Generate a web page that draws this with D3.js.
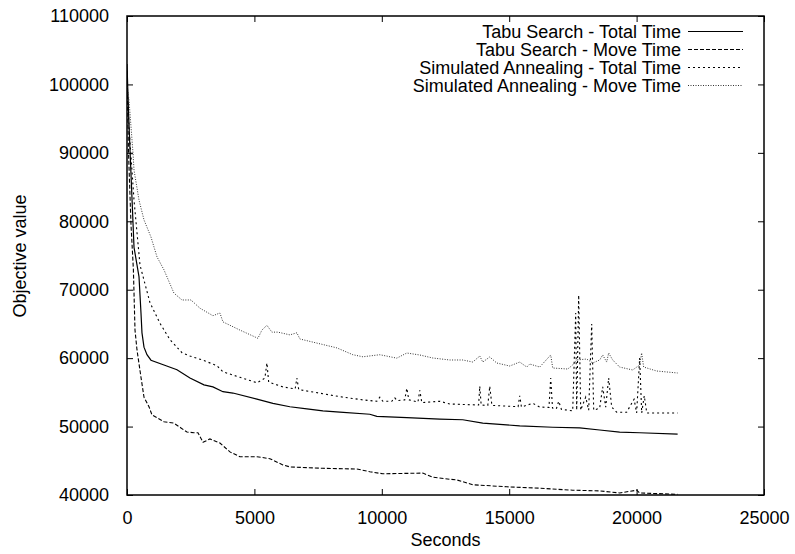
<!DOCTYPE html>
<html>
<head>
<meta charset="utf-8">
<script src="https://cdn.jsdelivr.net/npm/d3@7/dist/d3.min.js"></script>
<style>
  html, body { margin: 0; padding: 0; background: #fff; }
  svg { display: block; }
  text { font-family: "Liberation Sans", Arial, Helvetica, sans-serif; fill: #000; }
</style>
</head>
<body>
<svg id="chart" width="795" height="554"></svg>
<script>
// ---- Data (seconds, objective value) ----
const seriesNames = [
  "Tabu Search - Total Time",
  "Tabu Search - Move Time",
  "Simulated Annealing - Total Time",
  "Simulated Annealing - Move Time"
];

const tabuTotal = [[0,103000],[60,96000],[118,90400],[275,76200],[471,71900],[549,66600],[588,63700],[667,61600],[784,60500],[941,59700],[1451,59000],[1961,58300],[2471,57100],[3020,56100],[3373,55800],[3765,55100],[4157,54900],[5099,54000],[5726,53400],[6393,52900],[7060,52600],[7687,52300],[8354,52100],[9530,51800],[9805,51500],[10982,51300],[12276,51100],[13178,51000],[13962,50500],[15413,50100],[16708,49900],[17767,49800],[18551,49500],[19335,49200],[20120,49100],[21610,48900]];

const tabuMove = [[0,102000],[60,90000],[157,79500],[250,73000],[314,64100],[392,61200],[549,57200],[667,54300],[863,52900],[980,51700],[1177,51300],[1451,50700],[1843,50500],[2118,49800],[2353,49200],[2628,49100],[2785,49100],[2981,47700],[3255,48200],[3647,47600],[4040,46300],[4432,45600],[5099,45600],[5608,45300],[6118,44400],[6393,44100],[7687,43900],[9021,43800],[9530,43400],[10040,43100],[11609,43200],[12001,42600],[12668,42300],[12943,42200],[13570,41500],[14904,41200],[16198,41000],[17492,40700],[18551,40600],[19335,40300],[20002,40700],[20120,40300],[21610,40100]];

const saTotal = [[0,101000],[78,93800],[275,83100],[510,73600],[902,68100],[1294,65100],[1686,62700],[2157,60800],[2471,60300],[2981,59700],[3530,58900],[3765,58000],[4432,57200],[5099,56400],[5295,56800],[5412,57100],[5491,59300],[5560,56500],[6118,55800],[6600,55500],[6667,57100],[6740,55400],[7687,54800],[8471,54300],[9256,53900],[9805,53700],[9923,54300],[10040,53700],[10393,53700],[10511,54200],[10600,53800],[10900,53900],[10982,55600],[11060,53900],[11420,53600],[11491,55300],[11570,53500],[12276,53700],[12668,53300],[13800,53150],[13845,55900],[13900,53150],[14160,53100],[14237,55900],[14320,53100],[15350,52900],[15413,54500],[15480,52860],[15923,53400],[16198,52860],[16560,52800],[16629,57100],[16700,52700],[16850,52600],[16943,53700],[17050,52500],[17296,52400],[17492,52300],[17610,66600],[17649,52400],[17727,69200],[17806,52400],[18002,54300],[18120,52400],[18238,65000],[18316,52400],[18551,52700],[18669,55800],[18787,52850],[18904,57100],[19022,52850],[19218,52100],[19610,52100],[19900,54000],[20002,52000],[20120,60000],[20200,52000],[20300,54500],[20400,51980],[20787,51980],[21610,51980]];

const saMove = [[0,100000],[78,97700],[235,90000],[275,87500],[471,83100],[667,80200],[941,77700],[1177,74800],[1451,72900],[1843,69500],[2157,68500],[2510,68500],[2863,67300],[3373,66200],[3647,66600],[3765,65300],[4432,64100],[5138,62900],[5295,64100],[5491,64800],[5687,63800],[5922,63800],[6393,63400],[6667,63700],[6785,62800],[7452,62200],[8236,61500],[8864,60500],[9256,60200],[9923,60500],[10589,60000],[10982,60750],[11491,60460],[12001,60020],[12668,59730],[13178,59730],[13570,59430],[13845,60310],[13962,59430],[14237,60170],[14511,59290],[15021,58850],[15413,59430],[15688,58700],[15805,59140],[16198,58700],[16629,60460],[16708,58560],[17296,58410],[17492,59000],[17649,59730],[18041,59870],[18277,59290],[18551,59730],[18669,60460],[18826,59430],[18904,60750],[19061,59730],[19335,58700],[19845,58270],[20120,59000],[20198,60750],[20277,58700],[20787,58120],[21610,57830]];

const xTicks = [0, 5000, 10000, 15000, 20000, 25000];
const yTicks = [40000, 50000, 60000, 70000, 80000, 90000, 100000, 110000];

// ---- Layout ----
const svg = d3.select("#chart");
const pL = 127, pR = 764, pT = 16, pB = 495;
const x = d3.scaleLinear().domain([0, 25000]).range([pL, pR]);
const y = d3.scaleLinear().domain([40000, 110000]).range([pB, pT]);

const styles = [
  { data: tabuTotal, dash: null, color: "#000", width: 1.2 },
  { data: tabuMove,  dash: "4,2", color: "#000", width: 1.1 },
  { data: saTotal,   dash: "2,3", color: "#000", width: 1.1 },
  { data: saMove,    dash: "1,1.5", color: "#333", width: 1 }
];

svg.append("clipPath").attr("id", "clip")
  .append("rect").attr("x", pL).attr("y", pT)
  .attr("width", pR - pL).attr("height", pB - pT);

const line = d3.line().x(d => x(d[0])).y(d => y(d[1]));
const g = svg.append("g").attr("clip-path", "url(#clip)");
styles.forEach(s => {
  g.append("path").datum(s.data)
    .attr("d", line)
    .attr("fill", "none")
    .attr("stroke", s.color)
    .attr("stroke-width", s.width)
    .attr("stroke-dasharray", s.dash);
});

// ---- Axes (gnuplot style, inward ticks mirrored) ----
const tickLen = 6;
svg.append("g").attr("transform", `translate(0,${pB})`)
  .call(d3.axisBottom(x).tickValues(xTicks).tickSize(-tickLen).tickPadding(tickLen + 10).tickFormat(d3.format("d")))
  .call(a => a.select(".domain").remove())
  .call(a => a.selectAll("text").attr("font-size", 18).attr("font-family", "Liberation Sans, Arial, sans-serif"));
svg.append("g").attr("transform", `translate(0,${pT})`)
  .call(d3.axisTop(x).tickValues(xTicks).tickSize(-tickLen).tickFormat(""))
  .call(a => a.select(".domain").remove());
svg.append("g").attr("transform", `translate(${pL},0)`)
  .call(d3.axisLeft(y).tickValues(yTicks).tickSize(-tickLen).tickPadding(tickLen + 12).tickFormat(d3.format("d")))
  .call(a => a.select(".domain").remove())
  .call(a => a.selectAll("text").attr("font-size", 18).attr("font-family", "Liberation Sans, Arial, sans-serif"));
svg.append("g").attr("transform", `translate(${pR},0)`)
  .call(d3.axisRight(y).tickValues(yTicks).tickSize(-tickLen).tickFormat(""))
  .call(a => a.select(".domain").remove());

svg.selectAll(".tick line").attr("stroke", "#000").attr("stroke-width", 1);

svg.append("rect").attr("x", pL).attr("y", pT)
  .attr("width", pR - pL).attr("height", pB - pT)
  .attr("fill", "none").attr("stroke", "#000").attr("stroke-width", 1.5);

// ---- Axis titles ----
svg.append("text").attr("x", (pL + pR) / 2).attr("y", 546)
  .attr("text-anchor", "middle").attr("font-size", 18).text("Seconds");
svg.append("text").attr("transform", "translate(26,256) rotate(-90)")
  .attr("text-anchor", "middle").attr("font-size", 18).text("Objective value");

// ---- Legend ----
const leg = svg.append("g");
seriesNames.forEach((name, i) => {
  const yy = 31.5 + i * 18;
  leg.append("text").attr("x", 681).attr("y", yy + 6.5)
    .attr("text-anchor", "end").attr("font-size", 18).text(name);
  leg.append("line").attr("x1", 688).attr("x2", 743).attr("y1", yy).attr("y2", yy)
    .attr("stroke", styles[i].color).attr("stroke-width", styles[i].width)
    .attr("stroke-dasharray", styles[i].dash);
});
</script>
</body>
</html>
